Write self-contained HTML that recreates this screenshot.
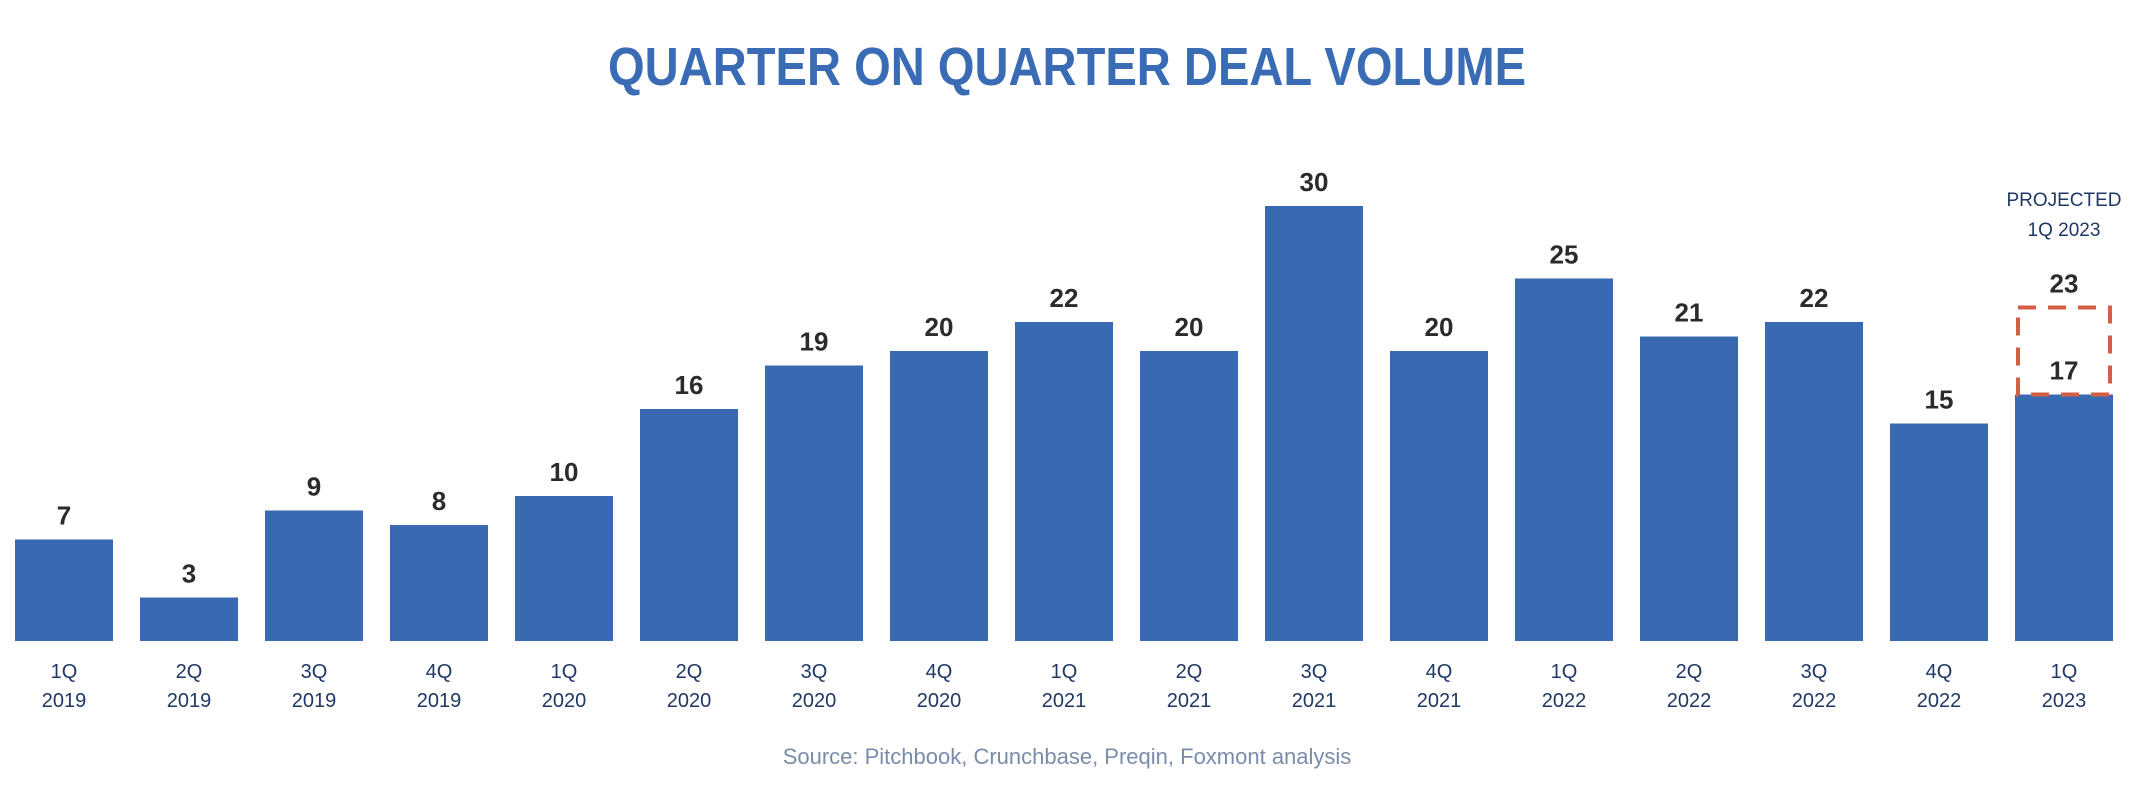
<!DOCTYPE html>
<html><head><meta charset="utf-8"><style>
body{margin:0;background:#fff;}
svg{display:block;font-family:"Liberation Sans",sans-serif;}
</style></head><body>
<svg id="chart" width="2138" height="794" viewBox="0 0 2138 794">
<text x="1067" y="85" text-anchor="middle" font-size="54" font-weight="bold" fill="#3a6cb5" textLength="918" lengthAdjust="spacingAndGlyphs">QUARTER ON QUARTER DEAL VOLUME</text>
<text x="1067" y="764" text-anchor="middle" font-size="22" fill="#7a8cab">Source: Pitchbook, Crunchbase, Preqin, Foxmont analysis</text>
<g id="bars"></g>
</svg>
<script>
const quarters=["1Q","2Q","3Q","4Q","1Q","2Q","3Q","4Q","1Q","2Q","3Q","4Q","1Q","2Q","3Q","4Q","1Q"];
const years=["2019","2019","2019","2019","2020","2020","2020","2020","2021","2021","2021","2021","2022","2022","2022","2022","2023"];
const values=[7,3,9,8,10,16,19,20,22,20,30,20,25,21,22,15,17];
const projected=[23];
const NS="http://www.w3.org/2000/svg";
const g=document.getElementById('bars');
const base=641, unit=14.5, x0=15, pitch=125, bw=98;
function xs(i){return x0+i*pitch;}
function ys(v){return base-v*unit;}
function mk(tag,attrs,txt){const e=document.createElementNS(NS,tag);for(const k in attrs)e.setAttribute(k,attrs[k]);if(txt!==undefined)e.textContent=txt;g.appendChild(e);return e;}
values.forEach((v,i)=>{
  const r=mk('rect',{x:xs(i),y:ys(v),width:bw,height:v*unit,fill:'#3869b1'});
  
  
  const t=mk('text',{x:xs(i)+bw/2,y:ys(v)-15,'text-anchor':'middle','font-size':26,'font-weight':'bold',fill:'#2b2b2b'},String(v));
  
  
  const q=mk('text',{x:xs(i)+bw/2,y:678,'text-anchor':'middle','font-size':20,fill:'#1f3864'},quarters[i]);
  
  
  const yy=mk('text',{x:xs(i)+bw/2,y:707,'text-anchor':'middle','font-size':20,fill:'#1f3864'},years[i]);
  
  
});
const li=values.length-1, pv=projected[0];
const pr=mk('rect',{x:xs(li)+3,y:ys(pv),width:bw-6,height:(pv-values[li])*unit,fill:'none',stroke:'#d35f45','stroke-width':4,'stroke-dasharray':'18,12'});


const pl=mk('text',{x:xs(li)+bw/2,y:ys(pv)-15,'text-anchor':'middle','font-size':26,'font-weight':'bold',fill:'#2b2b2b'},String(pv));


const p1=mk('text',{x:xs(li)+bw/2,y:206,'text-anchor':'middle','font-size':19,fill:'#1f3864'},'PROJECTED');


const p2=mk('text',{x:xs(li)+bw/2,y:236,'text-anchor':'middle','font-size':19,fill:'#1f3864'},'1Q 2023');


</script>
</body></html>
